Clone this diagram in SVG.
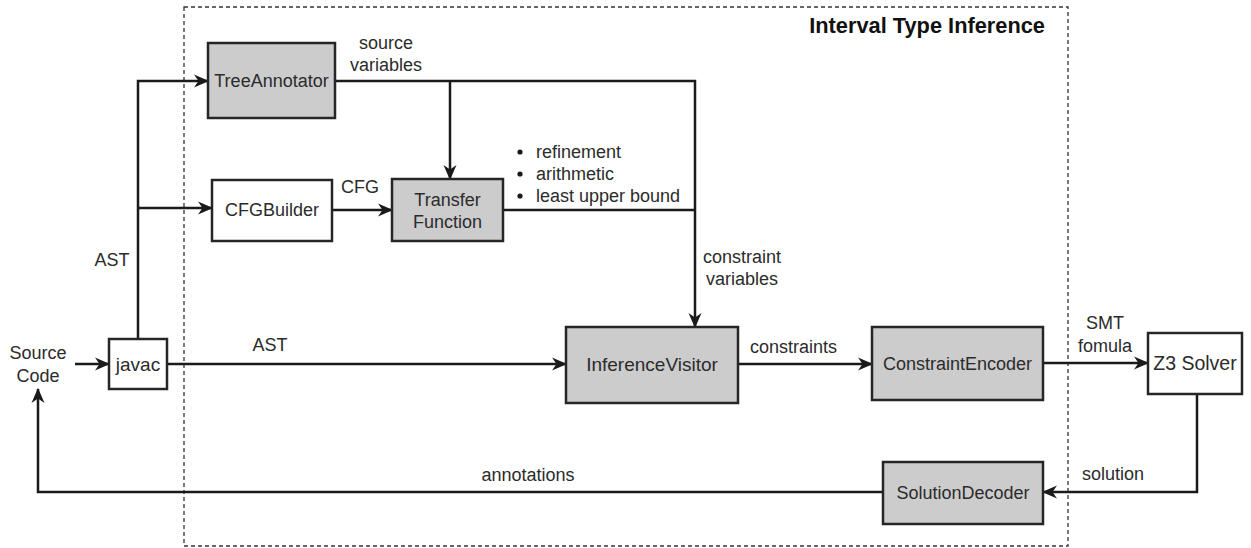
<svg xmlns="http://www.w3.org/2000/svg" width="1251" height="548" viewBox="0 0 1251 548">
  <style>
    .box { stroke: #262626; stroke-width: 2.5; }
    .gray { fill: #cccccc; }
    .white { fill: #ffffff; }
    .wire { fill: none; stroke: #1a1a1a; stroke-width: 2.5; }
    .arrow { marker-end: url(#head); }
    text { font-family: "Liberation Sans", Arial, sans-serif; font-size: 18px; fill: #2b2b2b; }
    .mid { text-anchor: middle; }
    .title { font-weight: bold; font-size: 21.8px; fill: #111111; text-anchor: end; }
  </style>
  <defs>
    <marker id="head" viewBox="0 0 15 14" refX="14" refY="7" markerWidth="15" markerHeight="14" markerUnits="userSpaceOnUse" orient="auto">
      <path d="M0,0.5 L15,7 L0,13.5 L4.5,7 Z" fill="#1a1a1a"/>
    </marker>
  </defs>

  <rect width="1251" height="548" fill="#ffffff"/>

  <!-- boundary of the inference stage -->
  <g id="frame">
    <rect x="184" y="7" width="884" height="539" fill="none" stroke="#333333" stroke-width="1.3" stroke-dasharray="4 3"/>
    <text class="title" x="1045" y="33">Interval Type Inference</text>
  </g>

  <!-- connectors -->
  <g id="connectors">
    <path class="wire arrow" d="M75,364 L109,364"/>
    <path class="wire arrow" d="M138,339 L138,81 L208,81"/>
    <path class="wire arrow" d="M138,208 L212,208"/>
    <path class="wire arrow" d="M167,364 L566,364"/>
    <path class="wire arrow" d="M335,81 L695,81 L695,327"/>
    <path class="wire arrow" d="M450,81 L450,179"/>
    <path class="wire arrow" d="M332,210 L392,210"/>
    <path class="wire" d="M503,210 L695,210"/>
    <path class="wire arrow" d="M738,364 L872,364"/>
    <path class="wire arrow" d="M1043,363 L1148,363"/>
    <path class="wire arrow" d="M1197,394 L1197,492 L1043,492"/>
    <path class="wire arrow" d="M883,492 L38,492 L38,389"/>

    <text x="112" y="266" class="mid">AST</text>
    <text x="270" y="351" class="mid">AST</text>
    <text x="386" y="49" class="mid">source</text>
    <text x="386" y="71" class="mid">variables</text>
    <text x="360" y="193" class="mid">CFG</text>
    <g id="rules">
      <circle cx="520" cy="152" r="2.6" fill="#1a1a1a"/>
      <circle cx="520" cy="174" r="2.6" fill="#1a1a1a"/>
      <circle cx="520" cy="196" r="2.6" fill="#1a1a1a"/>
      <text x="536" y="158">refinement</text>
      <text x="536" y="180">arithmetic</text>
      <text x="536" y="202">least upper bound</text>
    </g>
    <text x="703" y="263">constraint</text>
    <text x="706" y="285">variables</text>
    <text x="750" y="353">constraints</text>
    <text x="1105" y="329" class="mid">SMT</text>
    <text x="1105" y="352" class="mid">fomula</text>
    <text x="1082" y="480">solution</text>
    <text x="528" y="481" class="mid">annotations</text>
  </g>

  <!-- nodes -->
  <g id="source-code">
    <text x="38" y="359" class="mid">Source</text>
    <text x="38" y="382" class="mid">Code</text>
  </g>
  <g id="javac">
    <rect class="box white" x="109" y="339" width="58" height="50"/>
    <text x="138" y="371" class="mid" style="font-size:19px">javac</text>
  </g>
  <g id="tree-annotator">
    <rect class="box gray" x="208" y="43" width="127" height="75"/>
    <text x="271.5" y="87" class="mid">TreeAnnotator</text>
  </g>
  <g id="cfg-builder">
    <rect class="box white" x="212" y="180" width="120" height="61"/>
    <text x="272" y="216" class="mid">CFGBuilder</text>
  </g>
  <g id="transfer-function">
    <rect class="box gray" x="392" y="179" width="111" height="62"/>
    <text x="447.5" y="206" class="mid">Transfer</text>
    <text x="447.5" y="228" class="mid">Function</text>
  </g>
  <g id="inference-visitor">
    <rect class="box gray" x="566" y="327" width="172" height="76"/>
    <text x="652" y="371" class="mid" style="font-size:19px">InferenceVisitor</text>
  </g>
  <g id="constraint-encoder">
    <rect class="box gray" x="872" y="327" width="171" height="73"/>
    <text x="957.5" y="370" class="mid">ConstraintEncoder</text>
  </g>
  <g id="z3-solver">
    <rect class="box white" x="1148" y="333" width="94" height="61"/>
    <text x="1195" y="370" class="mid" style="font-size:19.5px">Z3 Solver</text>
  </g>
  <g id="solution-decoder">
    <rect class="box gray" x="883" y="462" width="160" height="62"/>
    <text x="963" y="499" class="mid">SolutionDecoder</text>
  </g>
</svg>
